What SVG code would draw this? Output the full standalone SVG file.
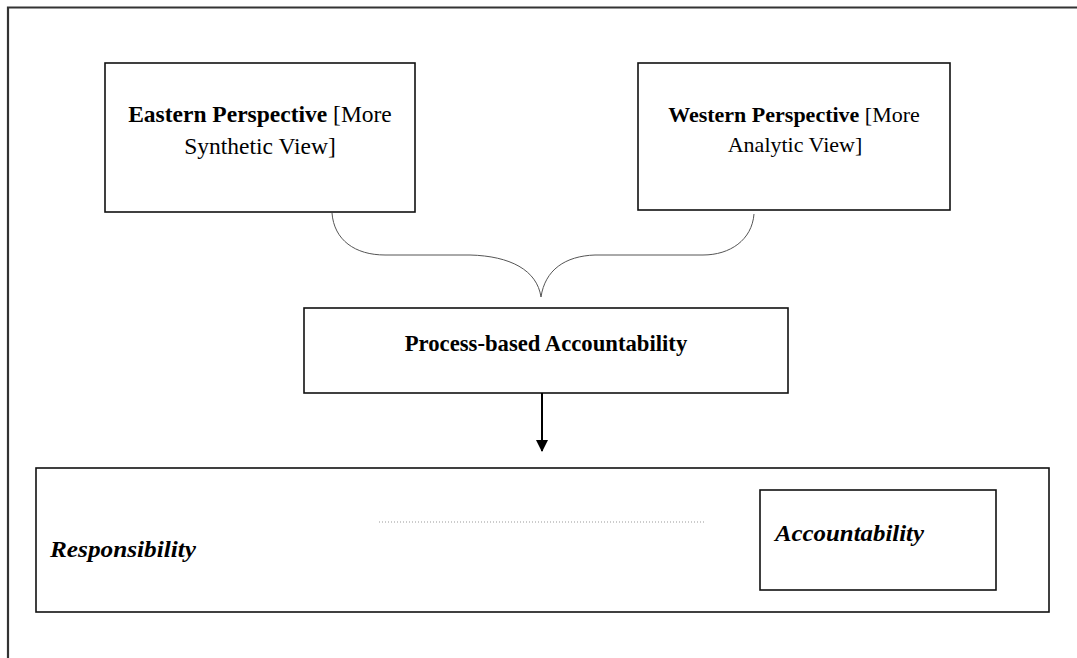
<svg xmlns="http://www.w3.org/2000/svg" width="1077" height="658" viewBox="0 0 1077 658">
<style>
.box{fill:#fff;stroke:#111;stroke-width:1.6}
.t{font-family:"Liberation Serif","Times New Roman",serif;font-size:23.5px;fill:#000}
.b{font-weight:bold}
.bi{font-weight:bold;font-style:italic}
.brace{fill:none;stroke:#555;stroke-width:1}
</style>
<defs>
<marker id="arr" markerWidth="12" markerHeight="12" refX="11" refY="6" orient="auto" markerUnits="userSpaceOnUse">
<path d="M0,0 L12,6 L0,12 Z" fill="#000"/>
</marker>
</defs>
<rect width="1077" height="658" fill="#fff"/>
<path d="M8,658 L8,7.5 L1077,7.5" fill="none" stroke="#333" stroke-width="2.2"/>
<g id="eastern">
<rect class="box" x="105" y="63" width="310" height="149"/>
<text class="t" x="260" y="122" text-anchor="middle"><tspan class="b">Eastern Perspective</tspan> [More</text>
<text class="t" x="260" y="154" text-anchor="middle">Synthetic View]</text>
</g>
<g id="western">
<rect class="box" x="638" y="63" width="312" height="147"/>
<text class="t" x="794" y="122" text-anchor="middle" style="font-size:22px"><tspan class="b">Western Perspective</tspan> [More</text>
<text class="t" x="795" y="152" text-anchor="middle" style="font-size:22px">Analytic View]</text>
</g>
<g id="process">
<rect class="box" x="304" y="308" width="484" height="85"/>
<text class="t b" x="546" y="351" text-anchor="middle" style="font-size:22.7px">Process-based Accountability</text>
</g>
<g id="outcome">
<rect class="box" x="36" y="468" width="1013" height="144"/>
<text class="t bi" x="50" y="557" style="font-size:24px" textLength="146" lengthAdjust="spacingAndGlyphs">Responsibility</text>
<line x1="379" y1="522" x2="706" y2="522" stroke="#999" stroke-width="1" stroke-dasharray="1,2"/>
</g>
<g id="accountability">
<rect class="box" x="760" y="490" width="236" height="100"/>
<text class="t bi" x="775" y="541" style="font-size:24px" textLength="149" lengthAdjust="spacingAndGlyphs">Accountability</text>
</g>
<g id="connectors">
<path class="brace" d="M332,213 C334,240 355,255 385,255 L470,255 C510,256 537,270 541,297"/>
<path class="brace" d="M754,214 C752,240 730,255 703,255 L595,255 C565,256 545,270 541,297"/>
<line x1="542" y1="393" x2="542" y2="451" stroke="#000" stroke-width="2" marker-end="url(#arr)"/>
</g>
</svg>
